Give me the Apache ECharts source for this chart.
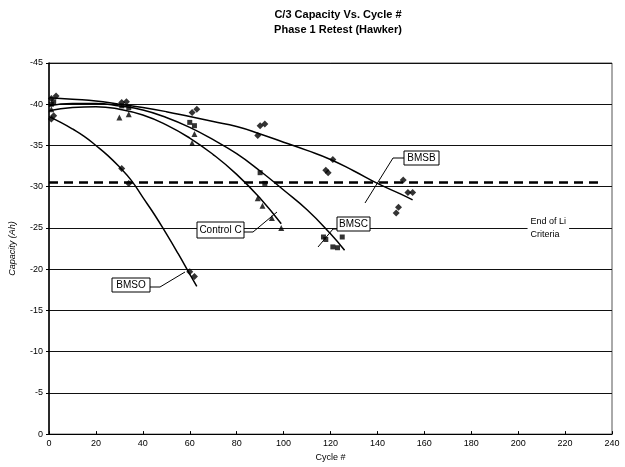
<!DOCTYPE html>
<html><head><meta charset="utf-8">
<script src="https://cdn.jsdelivr.net/npm/echarts@6/dist/echarts.min.js"></script>
<style>html,body{margin:0;padding:0;background:#fff}#c{width:625px;height:467px}</style>
</head><body><div id="c"></div>
<script>
// ---- data ----
const titleLines = ['C/3 Capacity Vs. Cycle #', 'Phase 1 Retest (Hawker)'];
const xName = 'Cycle #';
const yName = 'Capacity (Ah)';
const seriesNames = ['BMSB', 'BMSC', 'Control C', 'BMSO'];

const bmsbPts = [[1,-40.7],[3,-41.0],[31,-40.2],[33,-40.3],[61,-39.0],[63,-39.4],[89,-36.2],[90,-37.4],[92,-37.6],[118,-32.0],[119,-31.7],[121,-33.3],[148,-26.8],[149,-27.5],[151,-30.8],[153,-29.3],[155,-29.3]];
const bmscPts = [[1,-40.0],[2,-40.3],[31,-39.8],[34,-39.6],[60,-37.8],[62,-37.4],[90,-31.7],[92,-30.4],[117,-23.9],[118,-23.6],[121,-22.7],[123,-22.6],[125,-23.9]];
const controlCPts = [[1,-39.4],[30,-38.4],[34,-38.8],[61,-35.3],[62,-36.4],[89,-28.6],[91,-27.7],[95,-26.2],[99,-25.0]];
const bmsoPts = [[1,-38.2],[2,-38.6],[31,-32.2],[34,-30.4],[60,-19.7],[62,-19.1]];

const bmsbTrend = [[0,-40.8],[10,-40.6],[20,-40.4],[30,-40.0],[40,-39.6],[50,-39.1],[60,-38.5],[70,-37.9],[80,-37.3],[90,-36.4],[100,-35.4],[110,-34.4],[120,-33.3],[130,-31.9],[140,-30.4],[150,-29.1],[155,-28.4]];
const bmscTrend = [[0,-39.8],[10,-40.1],[20,-40.1],[30,-39.8],[40,-39.3],[50,-38.4],[60,-37.2],[70,-35.7],[80,-34.0],[90,-31.9],[100,-29.6],[110,-27.2],[120,-24.3],[126,-22.3]];
const controlCTrend = [[0,-39.2],[10,-39.6],[20,-39.7],[30,-39.4],[40,-38.7],[50,-37.5],[60,-35.9],[70,-33.9],[80,-31.5],[90,-28.6],[99,-25.5]];
const bmsoTrend = [[0,-38.5],[5,-37.8],[10,-37.0],[15,-36.1],[20,-35.0],[25,-33.8],[30,-32.4],[35,-30.8],[40,-28.7],[45,-26.6],[50,-24.3],[55,-21.9],[60,-19.4],[63,-17.9]];

const criteriaLine = [[0,-30.5],[236,-30.5]];
const criteriaText = ['End of Li', 'Criteria'];

// ---- chart ----
const FONT = '"Liberation Sans", Arial, sans-serif';
const chart = echarts.init(document.getElementById('c'), null, {renderer: 'canvas'});

function pts(name, data, symbol, size) {
  return {name, type: 'scatter', data, symbol, symbolSize: size,
    itemStyle: {color: '#000'}, z: 3};
}
function trend(data) {
  return {type: 'line', data, smooth: true, showSymbol: false, silent: true,
    lineStyle: {color: '#000', width: 1.5}, z: 2};
}

chart.setOption({
  animation: false,
  backgroundColor: '#fff',
  title: {
    text: titleLines.join('\n'), left: 333, top: 2, textAlign: 'center',
    textStyle: {fontFamily: FONT, fontSize: 11, fontWeight: 'bold', color: '#000', lineHeight: 15}
  },
  grid: {left: 48, right: 13, top: 63, bottom: 23, show: true, borderColor: '#555', borderWidth: 1},
  xAxis: {
    type: 'value', min: 0, max: 240, interval: 20,
    name: xName, nameLocation: 'middle', nameGap: 15,
    nameTextStyle: {fontFamily: FONT, fontSize: 9, color: '#000'},
    axisLine: {show: true, lineStyle: {color: '#000', width: 1.2}},
    axisTick: {show: true, inside: true, length: 3, lineStyle: {color: '#000'}},
    axisLabel: {fontFamily: FONT, fontSize: 9, color: '#000', margin: 5},
    splitLine: {show: false}
  },
  yAxis: {
    type: 'value', min: -45, max: 0, interval: 5, inverse: true,
    name: yName, nameLocation: 'middle', nameGap: 32, nameRotate: 90,
    nameTextStyle: {fontFamily: FONT, fontSize: 9, color: '#000', fontStyle: 'italic'},
    axisLine: {show: true, onZero: false, lineStyle: {color: '#000', width: 1.5}},
    axisTick: {show: true, length: 3, lineStyle: {color: '#000'}},
    axisLabel: {fontFamily: FONT, fontSize: 9, color: '#000', margin: 6},
    splitLine: {show: true, lineStyle: {color: '#111', width: 1.2}}
  },
  series: [
    trend(bmsbTrend), trend(bmscTrend), trend(controlCTrend), trend(bmsoTrend),
    pts(seriesNames[0], bmsbPts, 'diamond', 7),
    pts(seriesNames[1], bmscPts, 'rect', 5),
    pts(seriesNames[2], controlCPts, 'triangle', 6),
    pts(seriesNames[3], bmsoPts, 'diamond', 7),
    {type: 'line', data: criteriaLine, showSymbol: false, silent: true, z: 2,
     lineStyle: {color: '#000', width: 2.5, type: [9, 6]}}
  ]
});

// ---- annotations (boxed labels with leader lines) ----
function box(text, x, y, w, h) {
  return [{type: 'rect', shape: {x, y, width: w, height: h}, z: 10,
      style: {fill: '#fff', stroke: '#000', lineWidth: 1}},
    {type: 'text', x: x + w / 2, y: y + h / 2, z: 11,
      style: {text, fill: '#000', font: '10px ' + FONT, textAlign: 'center', textVerticalAlign: 'middle'}}];
}
function leader(points) {
  return {type: 'polyline', shape: {points}, z: 9, style: {stroke: '#000', lineWidth: 1, fill: null}};
}
const tl = chart.convertToPixel({gridIndex: 0}, [204, -25]);
chart.setOption({graphic: [
  ...box(seriesNames[0], 404, 151, 35, 14), leader([[404, 158], [393, 158], [365, 203]]),
  ...box(seriesNames[2], 197, 222, 47, 16), leader([[244, 232], [253, 232], [277, 212]]),
  ...box(seriesNames[1], 337, 217, 33, 14), leader([[337, 229], [333, 229], [318, 247]]),
  ...box(seriesNames[3], 112, 278, 38, 14), leader([[150, 287], [160, 287], [185, 272]]),
  {type: 'text', x: tl[0], y: tl[1], z: 11,
   style: {text: criteriaText.join('\n'), fill: '#000', font: '9px ' + FONT, lineHeight: 13,
     textAlign: 'left', textVerticalAlign: 'middle', backgroundColor: '#fff', padding: [1, 3]}}
]});
</script></body></html>
